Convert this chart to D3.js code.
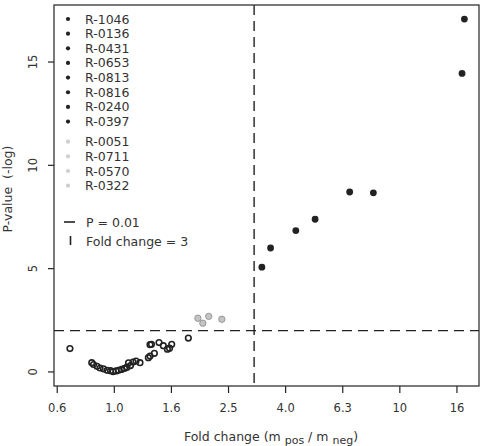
<!DOCTYPE html>
<html>
<head>
<meta charset="utf-8">
<script src="https://cdn.jsdelivr.net/npm/d3@7"></script>
<style>
  body { margin: 0; background: white; }
  text { font-family: "DejaVu Sans", Verdana, sans-serif; fill: #333; }
</style>
</head>
<body>
<svg id="chart" width="484" height="446"></svg>
<script>
// significant ones (black)
var sigNames = ['R-1046', 'R-0136', 'R-0431', 'R-0653', 'R-0813', 'R-0816', 'R-0240', 'R-0397']
var sigFold  = [16.9, 16.58, 6.70, 8.11, 5.07, 4.34, 3.54, 3.30]
var sigP     = [17.08, 14.45, 8.71, 8.67, 7.39, 6.84, 6.00, 5.07]

// p < 0.01 but small fold change (grey)
var nearNames = ['R-0051', 'R-0711', 'R-0570', 'R-0322']
var nearFold  = [2.15, 1.97, 2.39, 2.05]
var nearP     = [2.69, 2.60, 2.55, 2.36]

// the rest (open circles)
var restFold = [0.702, 0.837, 0.849, 0.873, 0.895, 0.920, 0.947, 0.974, 0.994, 1.018,
                1.039, 1.064, 1.090, 1.112, 1.126, 1.144, 1.168, 1.196, 1.235, 1.321,
                1.339, 1.339, 1.355, 1.387, 1.440, 1.491, 1.540, 1.567, 1.595, 1.824]
var restP    = [1.13, 0.45, 0.36, 0.27, 0.19, 0.15, 0.08, 0.06, 0.02, 0.05,
                0.08, 0.12, 0.17, 0.23, 0.44, 0.31, 0.48, 0.53, 0.45, 0.69,
                0.77, 1.32, 1.34, 0.90, 1.42, 1.27, 1.10, 1.15, 1.34, 1.64]

var xTickVals   = [0.631, 1, 1.585, 2.512, 3.981, 6.31, 10, 15.85]
var xTickLabels = ['0.6', '1.0', '1.6', '2.5', '4.0', '6.3', '10', '16']
var yTickVals   = [0, 5, 10, 15]

var pCut = 2      // -log10(0.01)
var foldCut = 3.1 // line sits a bit right of 3 in the picture

var box = {left: 54, right: 479, top: 5, bottom: 386}
var ink = '#222'

var x = d3.scaleLog()
	.domain([Math.pow(10, -0.2095), Math.pow(10, 1.279)])
	.range([box.left, box.right])
var y = d3.scaleLinear()
	.domain([-0.68, 17.76])
	.range([box.bottom, box.top])

var svg = d3.select('#chart')

// axes
var xAxis = d3.axisBottom(x)
	.tickValues(xTickVals)
	.tickFormat(function(d, i){ return xTickLabels[i] })
	.tickSize(7)
	.tickPadding(11)
var gx = svg.append('g')
	.attr('transform', 'translate(0,' + box.bottom + ')')
	.call(xAxis)
gx.select('.domain').remove()
gx.selectAll('line').style('stroke', ink).style('stroke-width', 1.2)
gx.selectAll('text').style('font-size', '11.5px').style('fill', '#333')
	.style('font-family', '"DejaVu Sans", Verdana, sans-serif')

var gy = svg.append('g')
gy.selectAll('.ytick')
	.data(yTickVals)
	.enter()
	.append('line')
	.attr('x1', box.left - 6)
	.attr('x2', box.left)
	.attr('y1', function(d){ return y(d) })
	.attr('y2', function(d){ return y(d) })
	.style('stroke', ink)
	.style('stroke-width', 1.2)
gy.selectAll('.ylab')
	.data(yTickVals)
	.enter()
	.append('text')
	.attr('transform', function(d){ return 'translate(37,' + y(d) + ') rotate(-90)' })
	.attr('text-anchor', 'middle')
	.style('font-size', '11.5px')
	.text(function(d){ return d })

// threshold lines
svg.append('line')
	.attr('x1', box.left).attr('x2', box.right)
	.attr('y1', y(pCut)).attr('y2', y(pCut))
	.style('stroke', ink)
	.style('stroke-width', 1.4)
	.style('stroke-dasharray', '10,6')
svg.append('line')
	.attr('x1', x(foldCut)).attr('x2', x(foldCut))
	.attr('y1', box.top).attr('y2', box.bottom)
	.style('stroke', ink)
	.style('stroke-width', 1.4)
	.style('stroke-dasharray', '10,6')

// points
svg.selectAll('.rest')
	.data(restFold)
	.enter()
	.append('circle')
	.attr('class', 'rest')
	.attr('cx', function(d){ return x(d) })
	.attr('cy', function(d, i){ return y(restP[i]) })
	.attr('r', 2.8)
	.style('fill', 'none')
	.style('stroke', ink)
	.style('stroke-width', 1.6)

svg.selectAll('.near')
	.data(nearFold)
	.enter()
	.append('circle')
	.attr('class', 'near')
	.attr('cx', function(d){ return x(d) })
	.attr('cy', function(d, i){ return y(nearP[i]) })
	.attr('r', 3.2)
	.style('fill', '#c4c4c4')
	.style('stroke', '#8a8a8a')
	.style('stroke-width', 0.8)

svg.selectAll('.sig')
	.data(sigFold)
	.enter()
	.append('circle')
	.attr('class', 'sig')
	.attr('cx', function(d){ return x(d) })
	.attr('cy', function(d, i){ return y(sigP[i]) })
	.attr('r', 3.4)
	.style('fill', ink)

// frame
svg.append('rect')
	.attr('x', box.left).attr('y', box.top)
	.attr('width', box.right - box.left)
	.attr('height', box.bottom - box.top)
	.style('fill', 'none')
	.style('stroke', '#333')
	.style('stroke-width', 1.3)

// legend
var legRows = sigNames.map(function(n, i){ return {name: n, col: ink, y: 19 + i * 14.65} })
	.concat(nearNames.map(function(n, i){ return {name: n, col: '#cfcfcf', y: 141.7 + i * 14.65} }))
var leg = svg.append('g')
leg.selectAll('circle')
	.data(legRows)
	.enter()
	.append('circle')
	.attr('cx', 68)
	.attr('cy', function(d){ return d.y })
	.attr('r', 2.1)
	.style('fill', function(d){ return d.col })
leg.selectAll('text')
	.data(legRows)
	.enter()
	.append('text')
	.attr('x', 85)
	.attr('y', function(d){ return d.y + 4.5 })
	.style('font-size', '12.5px')
	.text(function(d){ return d.name })

leg.append('line')
	.attr('x1', 64).attr('x2', 75)
	.attr('y1', 222).attr('y2', 222)
	.style('stroke', ink).style('stroke-width', 1.6)
leg.append('text')
	.attr('x', 86).attr('y', 226.5)
	.style('font-size', '12.5px')
	.text('P = 0.01')
leg.append('line')
	.attr('x1', 70.5).attr('x2', 70.5)
	.attr('y1', 236).attr('y2', 245)
	.style('stroke', ink).style('stroke-width', 1.6)
leg.append('text')
	.attr('x', 86).attr('y', 245.5)
	.style('font-size', '12.5px')
	.text('Fold change = 3')

// axis titles
var xl = svg.append('text')
	.attr('x', 271).attr('y', 441)
	.attr('text-anchor', 'middle')
	.style('font-size', '12.5px')
xl.append('tspan').text('Fold change (m ')
xl.append('tspan').attr('dy', 3).style('font-size', '11px').text('pos')
xl.append('tspan').attr('dy', -3).text(' / m ')
xl.append('tspan').attr('dy', 3).style('font-size', '11px').text('neg')
xl.append('tspan').attr('dy', -3).text(')')

svg.append('text')
	.attr('transform', 'translate(12,189) rotate(-90)')
	.attr('text-anchor', 'middle')
	.style('font-size', '12.5px')
	.style('white-space', 'pre')
	.attr('xml:space', 'preserve')
	.text('P-value  (-log)')
</script>
</body>
</html>
